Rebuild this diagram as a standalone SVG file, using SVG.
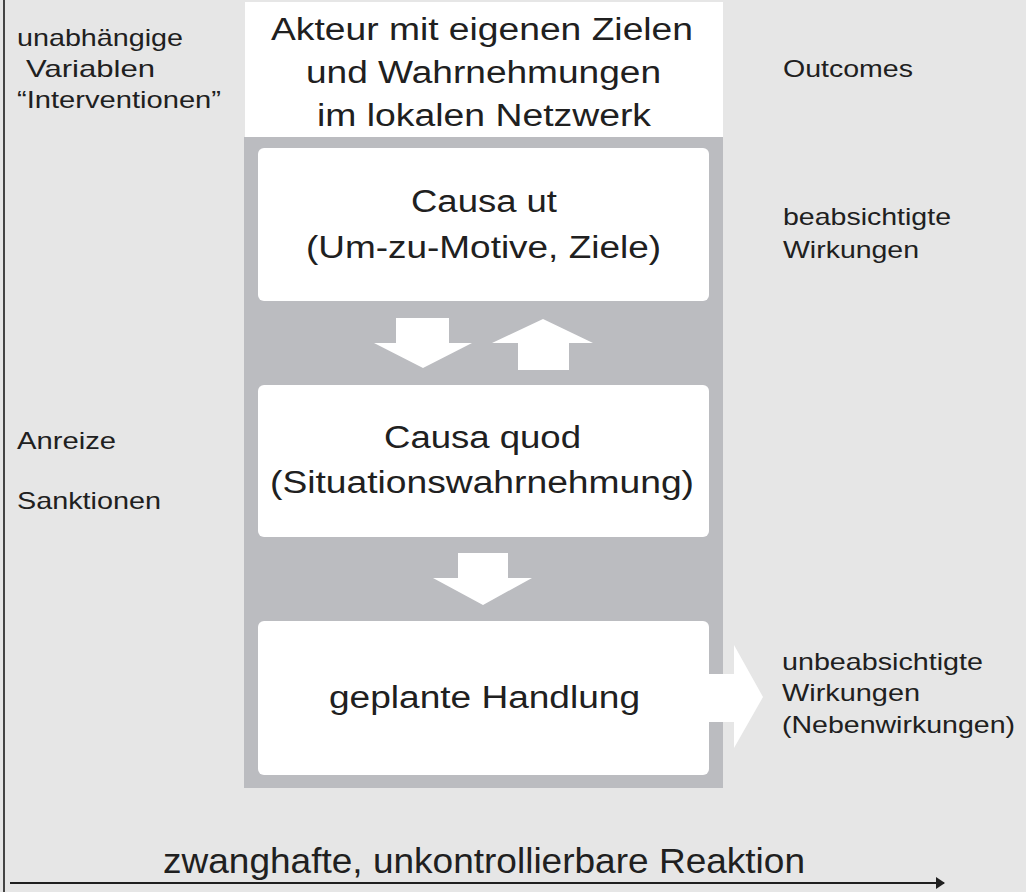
<svg xmlns="http://www.w3.org/2000/svg" width="1026" height="892" viewBox="0 0 1026 892">
  <style>
    text { font-family: "Liberation Sans", Arial, sans-serif; fill: #202020; }
    .side { font-size: 24px; }
    .box { font-size: 31px; }
    .card { fill: #ffffff; }
    .flow { fill: #ffffff; }
  </style>
  <defs>
    <marker id="axisHead" markerWidth="10" markerHeight="12" refX="8" refY="6" orient="auto" markerUnits="userSpaceOnUse">
      <path d="M0,0 L9,6 L0,12 Z" fill="#202020"/>
    </marker>
  </defs>

  <!-- page background and left rule -->
  <rect x="0" y="0" width="1026" height="892" fill="#e6e6e6"/>
  <line x1="4" y1="0" x2="4" y2="892" stroke="#444" stroke-width="2"/>

  <!-- actor column -->
  <rect id="column" x="244" y="137" width="479" height="651" fill="#bbbcc0"/>

  <g id="actor" class="box">
    <rect x="245" y="2" width="478" height="135" class="card"/>
    <text x="271" y="40" textLength="422" lengthAdjust="spacingAndGlyphs">Akteur mit eigenen Zielen</text>
    <text x="306" y="83" textLength="355" lengthAdjust="spacingAndGlyphs">und Wahrnehmungen</text>
    <text x="317" y="126" textLength="334" lengthAdjust="spacingAndGlyphs">im lokalen Netzwerk</text>
  </g>

  <g id="causa-ut" class="box">
    <rect x="258" y="148" width="451" height="153" rx="6" class="card"/>
    <text x="411" y="212" textLength="146" lengthAdjust="spacingAndGlyphs">Causa ut</text>
    <text x="306" y="258" textLength="355" lengthAdjust="spacingAndGlyphs">(Um-zu-Motive, Ziele)</text>
  </g>

  <g id="causa-quod" class="box">
    <rect x="258" y="385" width="451" height="152" rx="6" class="card"/>
    <text x="384" y="448" textLength="197" lengthAdjust="spacingAndGlyphs">Causa quod</text>
    <text x="270" y="493" textLength="424" lengthAdjust="spacingAndGlyphs">(Situationswahrnehmung)</text>
  </g>

  <g id="handlung" class="box">
    <rect x="258" y="621" width="451" height="154" rx="6" class="card"/>
    <text x="329" y="708" textLength="311" lengthAdjust="spacingAndGlyphs">geplante Handlung</text>
  </g>

  <!-- block arrows between the stages, plus the reaction axis -->
  <g id="connectors">
    <path class="flow" d="M396,318 H449 V343 H472 L423,368 L374,343 H396 Z"/>
    <path class="flow" d="M518,370 V343 H492 L543,319 L593,343 H569 V370 Z"/>
    <path class="flow" d="M458,553 H508 V578 H532 L483,605 L433,578 H458 Z"/>
    <path class="flow" d="M709,674 H734 V645 L763,697 L734,748 V722 H709 Z"/>
    <line x1="10" y1="883" x2="944" y2="883" stroke="#202020" stroke-width="2" marker-end="url(#axisHead)"/>
  </g>

  <!-- left-hand labels -->
  <g id="labels-left" class="side">
    <text x="17" y="46" textLength="166" lengthAdjust="spacingAndGlyphs">unabhängige</text>
    <text x="26" y="77" textLength="129" lengthAdjust="spacingAndGlyphs">Variablen</text>
    <text x="17" y="108" textLength="204" lengthAdjust="spacingAndGlyphs">“Interventionen”</text>
    <text x="17" y="449" textLength="99" lengthAdjust="spacingAndGlyphs">Anreize</text>
    <text x="17" y="509" textLength="144" lengthAdjust="spacingAndGlyphs">Sanktionen</text>
  </g>

  <!-- right-hand labels -->
  <g id="labels-right" class="side">
    <text x="783" y="77" textLength="130" lengthAdjust="spacingAndGlyphs">Outcomes</text>
    <text x="783" y="225" textLength="168" lengthAdjust="spacingAndGlyphs">beabsichtigte</text>
    <text x="783" y="258" textLength="136" lengthAdjust="spacingAndGlyphs">Wirkungen</text>
    <text x="782" y="670" textLength="201" lengthAdjust="spacingAndGlyphs">unbeabsichtigte</text>
    <text x="782" y="701" textLength="138" lengthAdjust="spacingAndGlyphs">Wirkungen</text>
    <text x="782" y="733" textLength="233" lengthAdjust="spacingAndGlyphs">(Nebenwirkungen)</text>
  </g>

  <g id="reaction">
    <text x="163" y="873" font-size="35" textLength="642" lengthAdjust="spacingAndGlyphs">zwanghafte, unkontrollierbare Reaktion</text>
  </g>
</svg>
